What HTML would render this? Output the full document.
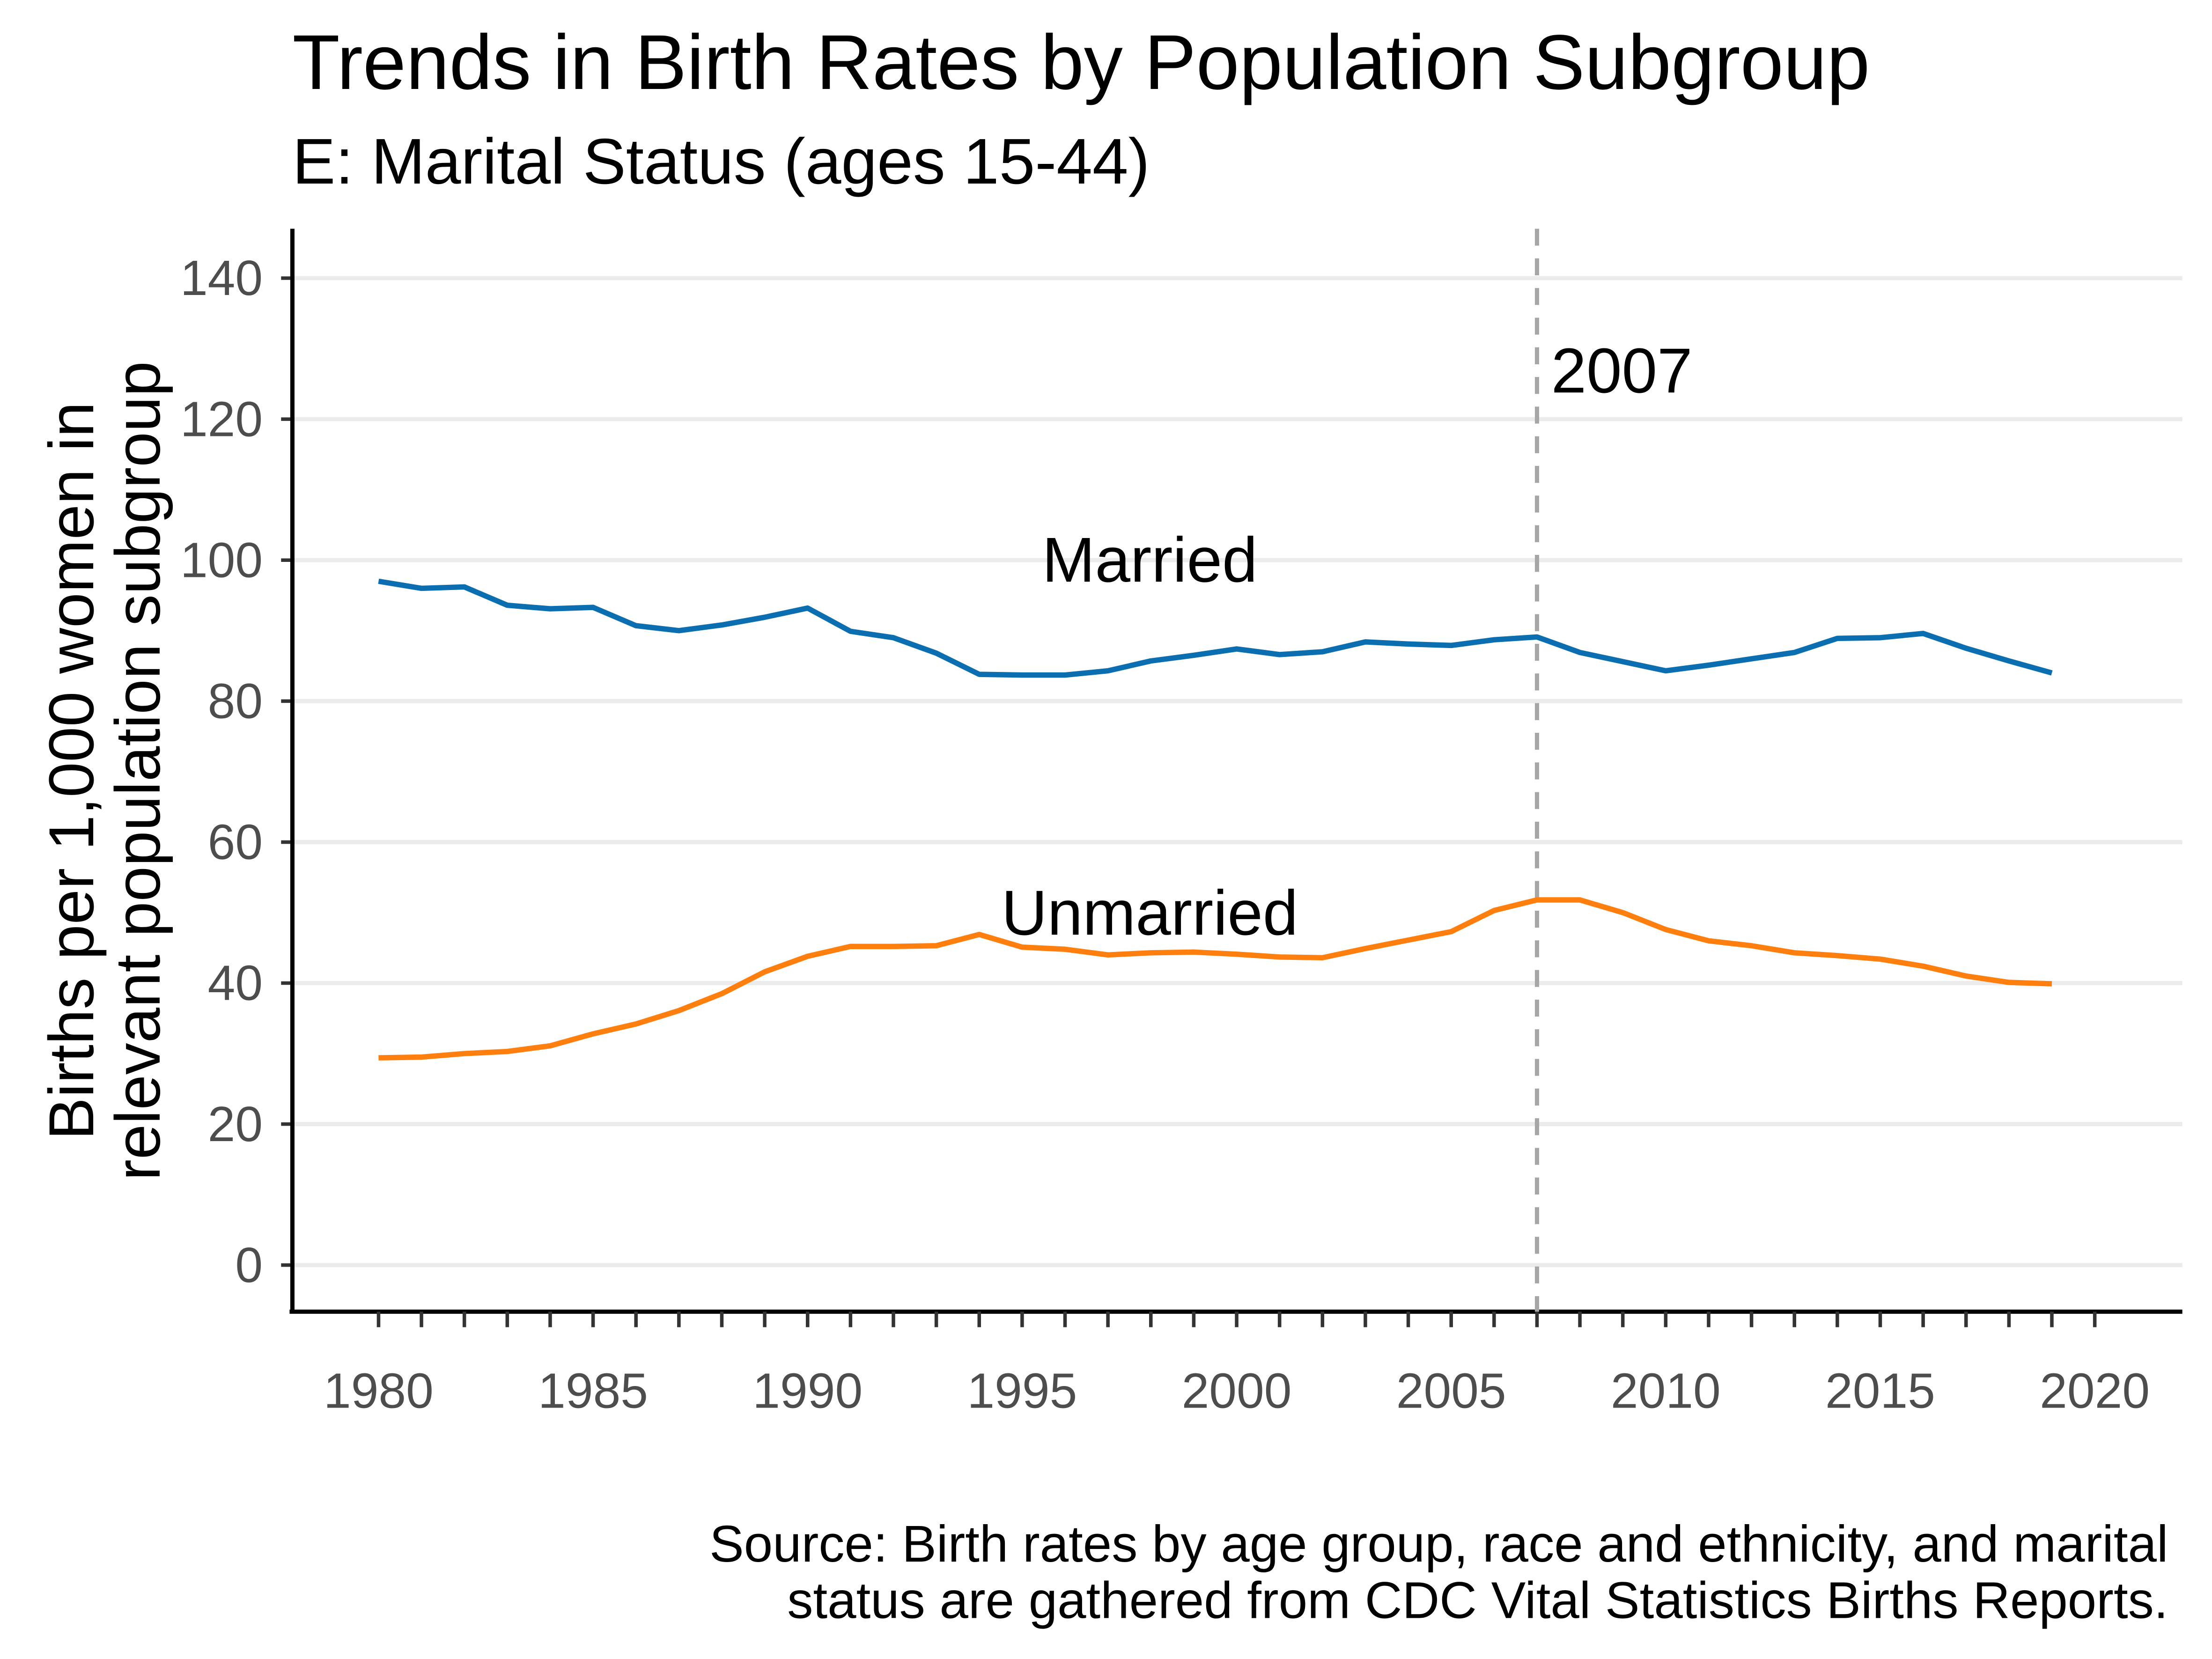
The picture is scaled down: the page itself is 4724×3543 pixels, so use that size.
<!DOCTYPE html>
<html><head><meta charset="utf-8"><style>
html,body{margin:0;padding:0;background:#fff;}
svg{display:block;font-family:"Liberation Sans",Arial,sans-serif;}
</style></head><body>
<svg id="chart" width="4724" height="3543" viewBox="0 0 1566 1175" preserveAspectRatio="none" xmlns="http://www.w3.org/2000/svg">
<text x="207" y="63" font-size="55" fill="#000">Trends in Birth Rates by Population Subgroup</text>
<text x="207" y="130" font-size="45.7" fill="#000">E: Marital Status (ages 15-44)</text>
<g id="grid"></g>
<g id="xticks"></g>
<g id="yticks"></g>
<g id="series"></g>
<text transform="translate(66,546) rotate(-90)" text-anchor="middle" font-size="45" fill="#000"><tspan x="0" dy="0">Births per 1,000 women in</tspan><tspan x="0" dy="47">relevant population subgroup</tspan></text>
<text x="1535" y="1106" text-anchor="end" font-size="36.6" fill="#000">Source: Birth rates by age group, race and ethnicity, and marital</text>
<text x="1535" y="1146" text-anchor="end" font-size="36.6" fill="#000">status are gathered from CDC Vital Statistics Births Reports.</text>
</svg>
<script>
const years = [];
for (let y = 1980; y <= 2019; y++) years.push(y);
const married = [97,96,96.2,93.6,93.1,93.3,90.7,90,90.8,91.9,93.2,89.9,89,86.8,83.8,83.7,83.7,84.3,85.7,86.5,87.4,86.6,87,88.4,88.1,87.9,88.7,89.1,86.9,85.6,84.3,85.1,86,86.9,88.9,89,89.6,87.5,85.7,84];
const unmarried = [29.4,29.5,30,30.3,31.1,32.8,34.2,36.1,38.5,41.6,43.8,45.2,45.2,45.3,46.9,45.1,44.8,44,44.3,44.4,44.1,43.7,43.6,44.9,46.1,47.3,50.3,51.8,51.8,50,47.6,46,45.3,44.3,43.9,43.4,42.4,41,40.1,39.9];
const yTicks = [0,20,40,60,80,100,120,140];
const xLabels = [1980,1985,1990,1995,2000,2005,2010,2015,2020];
const refYear = 2007;

const NS = "http://www.w3.org/2000/svg";
const X = yr => 268 + (yr - 1980) * (1483 - 268) / 40;
const Y = v => 896 - v * (896 - 197) / 140;
function mk(tag, attrs, parent, text) {
  const e = document.createElementNS(NS, tag);
  for (const k in attrs) e.setAttribute(k, attrs[k]);
  if (text !== undefined) e.textContent = text;
  parent.appendChild(e);
  return e;
}
const grid = document.getElementById('grid');
const yt = document.getElementById('yticks');
const xt = document.getElementById('xticks');
const ser = document.getElementById('series');

yTicks.forEach(v => {
  const g = mk('line', {x1:207, x2:1545, y1:Y(v), y2:Y(v), stroke:'#ebebeb', 'stroke-width':3}, grid);
  
  
  const t = mk('line', {x1:199, x2:207, y1:Y(v), y2:Y(v), stroke:'#333', 'stroke-width':2.5}, yt);
  
  
  const l = mk('text', {x:186, y:Y(v)+12, 'text-anchor':'end', 'font-size':35, fill:'#4d4d4d'}, yt, String(v));
  
  
});
const ya = mk('line', {x1:207, x2:207, y1:162, y2:930, stroke:'#000', 'stroke-width':3}, yt);


const xa = mk('line', {x1:205, x2:1545, y1:929, y2:929, stroke:'#000', 'stroke-width':3}, xt);


for (let yr = 1980; yr <= 2020; yr++) {
  const t = mk('line', {x1:X(yr), x2:X(yr), y1:929, y2:940, stroke:'#333', 'stroke-width':2.5}, xt);
  
  
}
xLabels.forEach(yr => {
  const l = mk('text', {x:X(yr), y:997, 'text-anchor':'middle', 'font-size':35, fill:'#4d4d4d'}, xt, String(yr));
  
  
});

const ref = mk('line', {x1:X(refYear), x2:X(refYear), y1:162, y2:929, stroke:'#a6a6a6', 'stroke-width':3, 'stroke-dasharray':'12,9'}, ser);


const rl = mk('text', {x:X(refYear)+10, y:278, 'font-size':45, fill:'#000'}, ser, String(refYear));



function line(vals, color, name) {
  const d = vals.map((v, i) => (i ? 'L' : 'M') + X(years[i]).toFixed(2) + ',' + Y(v).toFixed(2)).join(' ');
  const p = mk('path', {d:d, fill:'none', stroke:color, 'stroke-width':3.8, 'stroke-linejoin':'round'}, ser);
  
  
}
line(married, '#0a6eb0', 'married-line');
line(unmarried, '#ff7f0e', 'unmarried-line');
const ml = mk('text', {x:814, y:412, 'text-anchor':'middle', 'font-size':45, fill:'#000'}, ser, 'Married');


const ul = mk('text', {x:814, y:662, 'text-anchor':'middle', 'font-size':45, fill:'#000'}, ser, 'Unmarried');


</script>
</body></html>
